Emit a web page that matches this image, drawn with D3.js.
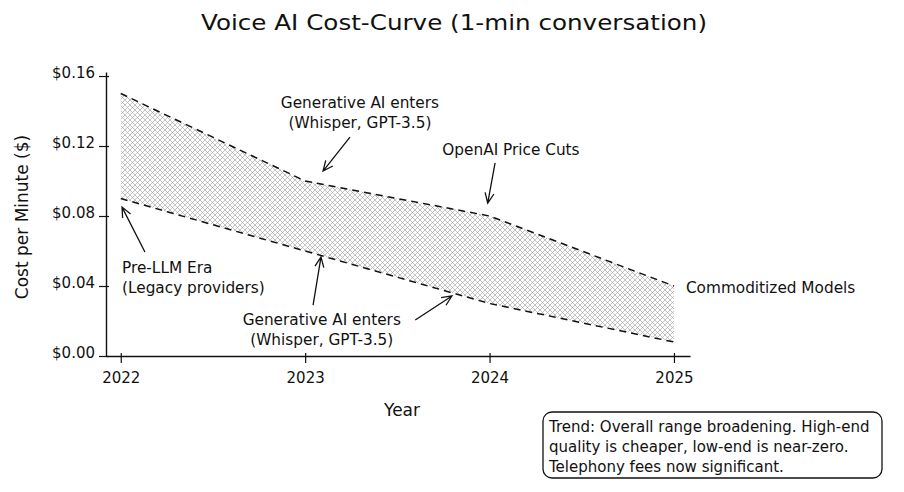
<!DOCTYPE html>
<html><head><meta charset="utf-8">
<script src="https://cdn.jsdelivr.net/npm/d3@7"></script>
<style>
html,body{margin:0;padding:0;background:#fff;}
svg{display:block;}
text{font-family:"DejaVu Sans",sans-serif;fill:#111;}
</style></head>
<body>
<script>
// ---- data ----
const years = [2022, 2023, 2024, 2025];
const highEnd = [0.15, 0.10, 0.08, 0.04];
const lowEnd = [0.09, 0.06, 0.03, 0.008];
const yTicks = [0, 0.04, 0.08, 0.12, 0.16];
const yTickLabels = ["$0.00", "$0.04", "$0.08", "$0.12", "$0.16"];
const xTickLabels = ["2022", "2023", "2024", "2025"];
const title = "Voice AI Cost-Curve (1-min conversation)";
const xLabel = "Year";
const yLabel = "Cost per Minute ($)";
const trendLines = ["Trend: Overall range broadening. High-end",
  "quality is cheaper, low-end is near-zero.",
  "Telephony fees now significant."];
// annotations in data coordinates: text anchor, arrows [tail, head]
const notes = [
  {lines: ["Generative AI enters", "(Whisper, GPT-3.5)"], at: [2023.297, 0.1389], anchor: "middle",
   arrows: [[[2023.243, 0.1251], [2023.097, 0.1057]]]},
  {lines: ["OpenAI Price Cuts"], at: [2024.116, 0.1177], anchor: "middle",
   arrows: [[[2024.03, 0.1103], [2023.99, 0.0874]]]},
  {lines: ["Pre-LLM Era", "(Legacy providers)"], at: [2022.007, 0.0446], anchor: "start",
   arrows: [[[2022.131, 0.0594], [2022.007, 0.0851]]]},
  {lines: ["Generative AI enters", "(Whisper, GPT-3.5)"], at: [2023.09, 0.0149], anchor: "middle",
   arrows: [[[2023.043, 0.0291], [2023.086, 0.0566]], [[2023.597, 0.0206], [2023.796, 0.0343]]]},
  {lines: ["Commoditized Models"], at: [2025.065, 0.0389], anchor: "start", arrows: []}
];

// ---- drawing ----
const W = 904, H = 492;
const svg = d3.select("body").append("svg").attr("width", W).attr("height", H);
svg.append("rect").attr("width", W).attr("height", H).attr("fill", "#fff");

const x = d3.scaleLinear().domain([2021.92, 2025.087]).range([106, 690]);
const y = d3.scaleLinear().domain([0, 0.1623]).range([356, 72]);

// hatch pattern
const defs = svg.append("defs");
const pat = defs.append("pattern").attr("id", "hatch").attr("patternUnits", "userSpaceOnUse")
  .attr("width", 5).attr("height", 5);
pat.append("path").attr("d", "M-1,1 l2,-2 M0,5 l5,-5 M4,6 l2,-2").attr("stroke", "#9a9a9a").attr("stroke-width", 0.6);
pat.append("path").attr("d", "M-1,4 l2,2 M0,0 l5,5 M4,-1 l2,2").attr("stroke", "#9a9a9a").attr("stroke-width", 0.6);

const band = years.map((yr, i) => ({x: yr, lo: lowEnd[i], hi: highEnd[i]}));
svg.append("path").datum(band)
  .attr("d", d3.area().x(d => x(d.x)).y0(d => y(d.lo)).y1(d => y(d.hi)))
  .attr("fill", "url(#hatch)").attr("stroke", "none");

const line = d3.line().x(d => x(d[0])).y(d => y(d[1]));
[highEnd, lowEnd].forEach(s => {
  svg.append("path").datum(years.map((yr, i) => [yr, s[i]]))
    .attr("d", line).attr("fill", "none").attr("stroke", "#111")
    .attr("stroke-width", 1.5).attr("stroke-dasharray", "7,5");
});

// axes
const xAxis = svg.append("g").attr("transform", `translate(0,${y(0)})`)
  .call(d3.axisBottom(x).tickValues(years).tickFormat((d, i) => xTickLabels[i])
    .tickSizeInner(7).tickSizeOuter(0).tickPadding(9));
xAxis.selectAll(".tick line").attr("y1", -3);
const yAxis = svg.append("g").attr("transform", `translate(${x.range()[0]},0)`)
  .call(d3.axisLeft(y).tickValues(yTicks).tickFormat((d, i) => yTickLabels[i])
    .tickSizeInner(7).tickSizeOuter(0).tickPadding(4));
yAxis.selectAll(".tick line").attr("x1", 3);
[xAxis, yAxis].forEach(g => {
  g.select(".domain").attr("stroke", "#111").attr("stroke-width", 1.4);
  g.selectAll(".tick line").attr("stroke", "#111").attr("stroke-width", 1.2);
  g.selectAll(".tick text").attr("font-size", 15).attr("font-family", "DejaVu Sans").attr("fill", "#111");
});
yAxis.selectAll(".tick text").attr("dy", "0.1em");

// titles
svg.append("text").attr("x", 454).attr("y", 30).attr("text-anchor", "middle")
  .attr("font-size", 22).attr("textLength", 506).attr("lengthAdjust", "spacingAndGlyphs").text(title);
svg.append("text").attr("x", (x.range()[0] + x.range()[1]) / 2 + 4).attr("y", 416)
  .attr("text-anchor", "middle").attr("font-size", 17).text(xLabel);
svg.append("text").attr("transform", "translate(28,217) rotate(-90)")
  .attr("text-anchor", "middle").attr("font-size", 17).text(yLabel);

// annotations
function arrow(tail, head) {
  const [x1, y1] = [x(tail[0]), y(tail[1])], [x2, y2] = [x(head[0]), y(head[1])];
  const a = Math.atan2(y2 - y1, x2 - x1), L = 11, s = 0.42;
  const p = d3.path();
  p.moveTo(x1, y1); p.lineTo(x2, y2);
  p.moveTo(x2 - L * Math.cos(a - s), y2 - L * Math.sin(a - s));
  p.lineTo(x2, y2);
  p.lineTo(x2 - L * Math.cos(a + s), y2 - L * Math.sin(a + s));
  svg.append("path").attr("d", p.toString()).attr("fill", "none")
    .attr("stroke", "#111").attr("stroke-width", 1.3);
}
notes.forEach(n => {
  const cx = x(n.at[0]), cy = y(n.at[1]);
  const lh = 20, top = cy - (n.lines.length - 1) * lh / 2;
  const t = svg.append("text").attr("text-anchor", n.anchor).attr("font-size", 15.3);
  n.lines.forEach((l, i) => t.append("tspan").attr("x", cx).attr("y", top + i * lh).attr("dy", "0.35em").text(l));
  n.arrows.forEach(a => arrow(a[0], a[1]));
});

// trend box
svg.append("rect").attr("x", 543).attr("y", 412).attr("width", 339).attr("height", 66)
  .attr("rx", 9).attr("fill", "#fff").attr("stroke", "#111").attr("stroke-width", 1.3);
const tb = svg.append("text").attr("font-size", 15);
trendLines.forEach((l, i) => tb.append("tspan").attr("x", 549).attr("y", 427 + i * 20).attr("dy", "0.35em").text(l));
</script>
</body></html>
